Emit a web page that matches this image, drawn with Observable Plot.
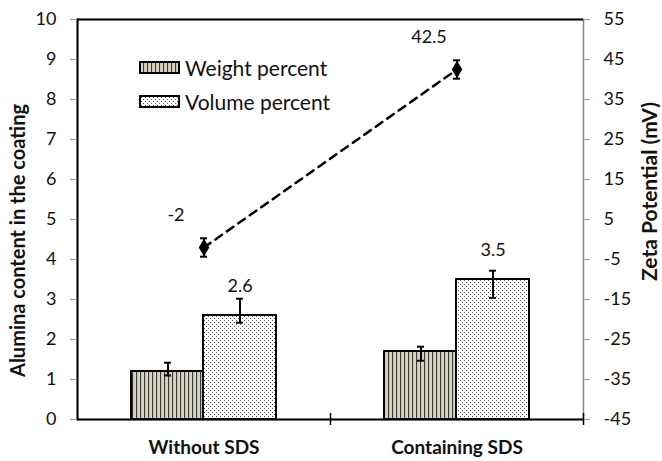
<!DOCTYPE html>
<html>
<head>
<meta charset="utf-8">
<script src="https://cdn.jsdelivr.net/npm/d3@7"></script>
<script src="https://cdn.jsdelivr.net/npm/@observablehq/plot@0.6"></script>
<style>
  html, body { margin: 0; padding: 0; background: white; }
  #wrap { position: relative; width: 662px; height: 461px; font-family: Lato, sans-serif; }
  #legend { position: absolute; left: 139px; top: 50px; font-size: 21px; color: #111; }
  .item { display: flex; align-items: center; height: 34px; }
  .item svg { margin-right: 5px; }
</style>
</head>
<body>
<svg width="0" height="0" style="position:absolute">
  <defs>
    <pattern id="pWeight" patternUnits="userSpaceOnUse" width="4" height="4">
      <rect width="4" height="4" fill="#d8d3bd"></rect>
      <rect x="0" y="0" width="1.1" height="4" fill="#3a3a3a"></rect>
    </pattern>
    <pattern id="pVolume" patternUnits="userSpaceOnUse" width="4" height="4">
      <rect width="4" height="4" fill="#ffffff"></rect>
      <rect x="0" y="0" width="1" height="1" fill="#555"></rect>
      <rect x="2" y="2" width="1" height="1" fill="#555"></rect>
    </pattern>
  </defs>
</svg>
<div id="wrap"></div>
<script>
// ---- data ----
const categories = ["Without SDS", "Containing SDS"];
const seriesNames = ["Weight percent", "Volume percent"];
const weightPct = [1.2, 1.7];
const weightLo = [1.1, 1.47];
const weightHi = [1.42, 1.82];
const volumePct = [2.6, 3.5];
const volumeLo = [2.42, 3.04];
const volumeHi = [3.02, 3.72];
const zeta = [-2, 42.5];
const zetaLo = [-4.3, 40.2];
const zetaHi = [0.3, 44.8];
const leftTicks = [0, 1, 2, 3, 4, 5, 6, 7, 8, 9, 10];
const rightTicks = [-45, -35, -25, -15, -5, 5, 15, 25, 35, 45, 55];
const leftTitle = "Alumina content in the coating";
const rightTitle = "Zeta Potential (mV)";

// right axis (-45..55) mapped onto left axis (0..10)
const toLeft = z => (z + 45) / 10;
const fromLeft = v => Math.round(v * 10 - 45);

const rows = categories.map((c, i) => ({
  cat: c,
  w: weightPct[i], wLo: weightLo[i], wHi: weightHi[i],
  v: volumePct[i], vLo: volumeLo[i], vHi: volumeHi[i],
  z: toLeft(zeta[i]), zLo: toLeft(zetaLo[i]), zHi: toLeft(zetaHi[i]), zRaw: zeta[i]
}));

const chart = Plot.plot({
  width: 662,
  height: 461,
  marginLeft: 77,
  marginRight: 79,
  marginTop: 19,
  marginBottom: 42,
  style: { fontFamily: "Lato, sans-serif", fontSize: "18px", color: "black", background: "white" },
  x: { type: "band", domain: categories, padding: 0, axis: null },
  y: { domain: [0, 10], axis: null },
  marks: [
    // bars
    Plot.barY(rows, { x: "cat", y: "w", fill: "url(#pWeight)", stroke: "black", strokeWidth: 2, insetLeft: 54, insetRight: 127 }),
    Plot.barY(rows, { x: "cat", y: "v", fill: "url(#pVolume)", stroke: "black", strokeWidth: 2, insetLeft: 126, insetRight: 54 }),
    // bar error bars
    Plot.ruleX(rows, { x: "cat", y1: "wLo", y2: "wHi", dx: -36, strokeWidth: 2 }),
    Plot.tickY(rows, { x: "cat", y: "wLo", insetLeft: 87, insetRight: 159, strokeWidth: 2 }),
    Plot.tickY(rows, { x: "cat", y: "wHi", insetLeft: 87, insetRight: 159, strokeWidth: 2 }),
    Plot.ruleX(rows, { x: "cat", y1: "vLo", y2: "vHi", dx: 36, strokeWidth: 2 }),
    Plot.tickY(rows, { x: "cat", y: "vLo", insetLeft: 159, insetRight: 87, strokeWidth: 2 }),
    Plot.tickY(rows, { x: "cat", y: "vHi", insetLeft: 159, insetRight: 87, strokeWidth: 2 }),
    // frame / axis lines
    Plot.frame({ stroke: "#888", strokeWidth: 1.5 }),
    Plot.frame({ anchor: "left", stroke: "black", strokeWidth: 2 }),
    Plot.ruleY([0, 10], { stroke: "black", strokeWidth: 2 }),
    Plot.ruleX(categories, { x: d => d, y1: -0.15, y2: 0.15, dx: 126.5, stroke: "black", strokeWidth: 1.5 }),
    // axes
    Plot.axisY(leftTicks, { anchor: "left", tickSize: 7, tickPadding: 14, stroke: "#999", fill: "#111", fontSize: 18, label: null }),
    Plot.axisY(rightTicks.map(toLeft), { anchor: "right", tickSize: 6, tickPadding: 14, tickFormat: fromLeft, stroke: "#999", fill: "#111", fontSize: 18, label: null }),
    Plot.axisX({ tickSize: 0, tickPadding: 21, fontWeight: "bold", fontSize: 19, fill: "#111", label: null }),
    // zeta potential line
    Plot.line(rows, { x: "cat", y: "z", stroke: "black", strokeWidth: 2.5, strokeDasharray: "8,6" }),
    Plot.ruleX(rows, { x: "cat", y1: "zLo", y2: "zHi", strokeWidth: 2 }),
    Plot.tickY(rows, { x: "cat", y: "zLo", insetLeft: 123, insetRight: 123, strokeWidth: 2 }),
    Plot.tickY(rows, { x: "cat", y: "zHi", insetLeft: 123, insetRight: 123, strokeWidth: 2 }),
    Plot.dot(rows, { x: "cat", y: "z", symbol: "diamond", r: 5.5, fill: "black", stroke: "none" }),
    // value labels
    Plot.text(rows, { x: "cat", y: "v", text: d => String(d.v), dx: 36, dy: -29, fontSize: 18, fill: "#111" }),
    Plot.text(rows, { x: "cat", y: "z", text: d => String(d.zRaw), dx: -28, dy: -32, fontSize: 18, fill: "#111" }),
    // axis titles
    Plot.text([leftTitle], { text: d => d, frameAnchor: "left", textAnchor: "middle", rotate: -90, dx: -59, dy: 21, fontWeight: "bold", fontSize: 20, fill: "#111" }),
    Plot.text([rightTitle], { text: d => d, frameAnchor: "right", textAnchor: "middle", rotate: -90, dx: 67, dy: -28, fontWeight: "bold", fontSize: 21, fill: "#111" })
  ]
});

const wrap = document.getElementById("wrap");
wrap.appendChild(chart);

// legend
const fills = ["url(#pWeight)", "url(#pVolume)"];
const legend = document.createElement("div");
legend.id = "legend";
seriesNames.forEach((name, i) => {
  const item = document.createElement("div");
  item.className = "item";
  item.innerHTML = `<svg width="41" height="13"><rect x="1" y="1" width="39" height="11" fill="${fills[i]}" stroke="black" stroke-width="2"></rect></svg><span>${name}</span>`;
  legend.appendChild(item);
});
wrap.appendChild(legend);
</script>
</body>
</html>
